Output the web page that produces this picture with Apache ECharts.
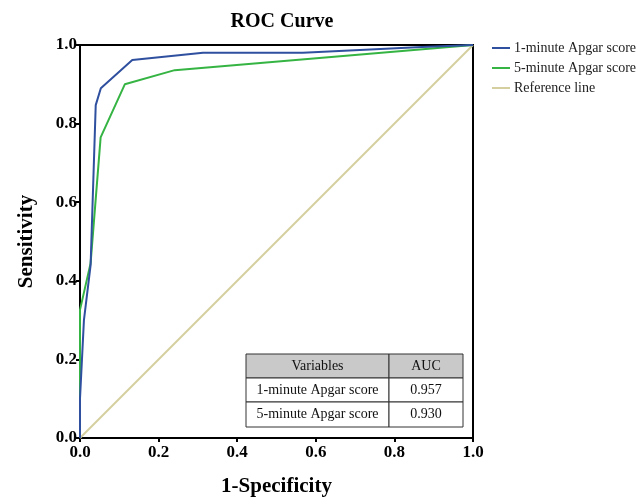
<!DOCTYPE html>
<html>
<head>
<meta charset="utf-8">
<script src="https://cdn.jsdelivr.net/npm/echarts@6/dist/echarts.min.js"></script>
<style>html,body{margin:0;padding:0;background:#fff}#c{width:639px;height:498px}</style>
</head>
<body>
<div id="c"></div>
<script>
const seriesNames = ['1-minute Apgar score', '5-minute Apgar score', 'Reference line'];
const oneMinute = [[0,0],[0,0.1],[0.01,0.3],[0.027,0.44],[0.04,0.847],[0.053,0.89],[0.133,0.962],[0.313,0.98],[0.567,0.98],[0.87,0.995],[1,1]];
const fiveMinute = [[0,0],[0,0.326],[0.027,0.445],[0.0525,0.765],[0.114,0.9],[0.241,0.936],[1,1]];
const referenceLine = [[0,0],[1,1]];
const tableHeader = ['Variables', 'AUC'];
const tableRows = [['1-minute Apgar score', '0.957'], ['5-minute Apgar score', '0.930']];

const colors = ['#2f4f9f', '#35b443', '#d5cf9f'];
const serif = '"Liberation Serif", "Times New Roman", serif';

const chart = echarts.init(document.getElementById('c'), null, {renderer: 'canvas'});

// table graphic
const tX = 246, tY = 354, colW = [143, 74], rowH = [24, 24, 25];
const g = [];
const allRows = [tableHeader].concat(tableRows);
let y = tY;
allRows.forEach((row, ri) => {
  let x = tX;
  row.forEach((cell, ci) => {
    g.push({type: 'rect', shape: {x: x, y: y, width: colW[ci], height: rowH[ri]},
      style: {fill: ri === 0 ? '#c9c9c9' : '#fff', stroke: '#333', lineWidth: 1}, z: 100});
    g.push({type: 'text', x: x + colW[ci] / 2, y: y + rowH[ri] / 2,
      style: {text: cell, font: '14px ' + serif, fill: '#111', align: 'center', verticalAlign: 'middle'}, z: 101});
    x += colW[ci];
  });
  y += rowH[ri];
});

const axisCommon = {
  type: 'value', min: 0, max: 1, interval: 0.2,
  splitLine: {show: false},
  axisLine: {show: true, onZero: false, lineStyle: {color: '#000', width: 2}},
  axisTick: {show: true, inside: false, length: 4, lineStyle: {color: '#000', width: 2}},
  nameTextStyle: {fontFamily: serif, fontWeight: 'bold', fontSize: 21, color: '#000'},
};

chart.setOption({
  animation: false,
  title: {text: 'ROC Curve', left: 277, top: 7, textAlign: 'center',
    textStyle: {fontFamily: serif, fontWeight: 'bold', fontSize: 20, color: '#000'}},
  legend: {
    orient: 'vertical', left: 487, top: 36, itemGap: 6, itemWidth: 18, itemHeight: 2,
    icon: 'rect', data: seriesNames,
    textStyle: {fontFamily: serif, fontSize: 14, color: '#222', padding: [0,0,0,-1]}
  },
  grid: {left: 80, right: 166, top: 45, bottom: 60, show: true, borderColor: '#000', borderWidth: 2,
    containLabel: false, outerBoundsMode: 'none'},
  xAxis: Object.assign({}, axisCommon, {
    name: '1-Specificity', nameLocation: 'middle', nameGap: 38,
    axisLabel: {fontFamily: serif, fontWeight: 'bold', fontSize: 17, color: '#000', margin: 6,
      formatter: v => v.toFixed(1)}
  }),
  yAxis: Object.assign({}, axisCommon, {
    name: 'Sensitivity', nameLocation: 'middle', nameGap: 43,
    axisLabel: {fontFamily: serif, fontWeight: 'bold', fontSize: 17, color: '#000', margin: 3,
      formatter: v => v.toFixed(1)}
  }),
  series: [
    {name: seriesNames[0], type: 'line', data: oneMinute, showSymbol: false, symbol: 'none',
      lineStyle: {color: colors[0], width: 2}, itemStyle: {color: colors[0]}, z: 4},
    {name: seriesNames[1], type: 'line', data: fiveMinute, showSymbol: false, symbol: 'none',
      lineStyle: {color: colors[1], width: 2}, itemStyle: {color: colors[1]}, z: 3},
    {name: seriesNames[2], type: 'line', data: referenceLine, showSymbol: false, symbol: 'none',
      lineStyle: {color: colors[2], width: 2}, itemStyle: {color: colors[2]}, z: 2}
  ],
  graphic: g
});
</script>
</body>
</html>
